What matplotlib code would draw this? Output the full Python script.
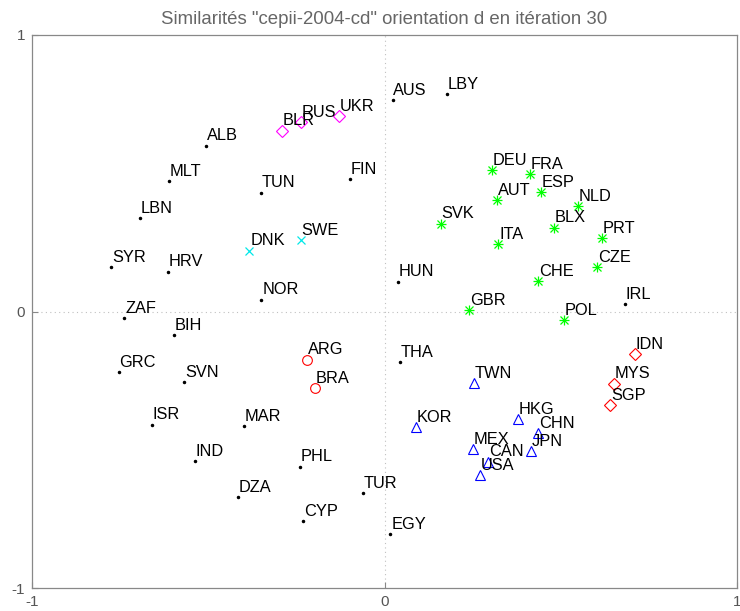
import matplotlib
matplotlib.use("Agg")
import matplotlib.pyplot as plt

plt.rcParams['font.family'] = ['Liberation Sans', 'DejaVu Sans']

title = 'Similarités "cepii-2004-cd" orientation d en itération 30'

# group: black dots
dot_codes = ["AUS", "LBY", "ALB", "MLT", "TUN", "FIN", "LBN", "SYR", "HRV", "NOR",
             "ZAF", "BIH", "GRC", "SVN", "HUN", "THA", "IRL", "ISR", "MAR", "IND",
             "PHL", "DZA", "TUR", "CYP", "EGY"]
dot_x = [0.023, 0.176, -0.506, -0.611, -0.350, -0.099, -0.695, -0.775, -0.614, -0.349,
         -0.738, -0.598, -0.754, -0.568, 0.039, 0.045, 0.681, -0.659, -0.400, -0.539,
         -0.240, -0.415, -0.062, -0.231, 0.017]
dot_y = [0.765, 0.787, 0.600, 0.471, 0.430, 0.479, 0.339, 0.160, 0.144, 0.043,
         -0.024, -0.086, -0.220, -0.256, 0.108, -0.183, 0.027, -0.409, -0.415, -0.541,
         -0.561, -0.670, -0.656, -0.758, -0.806]

# group: magenta diamonds
mag_codes = ["BLR", "RUS", "UKR"]
mag_x = [-0.291, -0.238, -0.129]
mag_y = [0.654, 0.684, 0.707]

# group: cyan crosses
cyan_codes = ["DNK", "SWE"]
cyan_x = [-0.383, -0.238]
cyan_y = [0.220, 0.259]

# group: green stars
green_codes = ["DEU", "FRA", "ESP", "AUT", "NLD", "SVK", "BLX", "ITA", "PRT", "CZE",
               "CHE", "GBR", "POL"]
green_x = [0.304, 0.412, 0.445, 0.319, 0.548, 0.160, 0.481, 0.323, 0.617, 0.604,
           0.436, 0.240, 0.508]
green_y = [0.512, 0.498, 0.431, 0.402, 0.380, 0.318, 0.303, 0.244, 0.265, 0.161,
           0.111, 0.005, -0.032]

# group: blue triangles
blue_codes = ["TWN", "KOR", "HKG", "CHN", "MEX", "JPN", "CAN", "USA"]
blue_x = [0.253, 0.090, 0.378, 0.436, 0.251, 0.417, 0.295, 0.271]
blue_y = [-0.260, -0.417, -0.390, -0.441, -0.498, -0.506, -0.543, -0.592]

# group: red diamonds
rd_codes = ["IDN", "MYS", "SGP"]
rd_x = [0.711, 0.651, 0.641]
rd_y = [-0.155, -0.261, -0.338]

# group: red circles
rc_codes = ["ARG", "BRA"]
rc_x = [-0.220, -0.196]
rc_y = [-0.174, -0.278]

fig = plt.figure(figsize=(7.4, 6.11), dpi=100)
ax = fig.add_axes([32 / 740, 1 - 588 / 611, (737 - 32) / 740, (588 - 35) / 611])

ax.axhline(0, color='#c0c0c0', lw=0.8, ls=(0, (1, 3)), zorder=0)
ax.axvline(0, color='#c0c0c0', lw=0.8, ls=(0, (1, 3)), zorder=0)

ax.plot(dot_x, dot_y, ls='none', marker='.', color='black', ms=3)
ax.plot(mag_x, mag_y, ls='none', marker='D', mfc='none', mec='#ff00ff', ms=6, mew=0.8)
ax.plot(cyan_x, cyan_y, ls='none', marker='x', color='#00e8e8', ms=6, mew=0.9)
ax.plot(green_x, green_y, ls='none', marker='+', color='#00ff00', ms=7.5, mew=0.9)
ax.plot(green_x, green_y, ls='none', marker='x', color='#00ff00', ms=5.5, mew=0.9)
ax.plot(blue_x, blue_y, ls='none', marker='^', mfc='none', mec='#0000ff', ms=6.5, mew=0.8)
ax.plot(rd_x, rd_y, ls='none', marker='D', mfc='none', mec='#ff0000', ms=6, mew=0.8)
ax.plot(rc_x, rc_y, ls='none', marker='o', mfc='none', mec='#ff0000', ms=7, mew=0.8)

for codes, xs, ys in [(dot_codes, dot_x, dot_y), (mag_codes, mag_x, mag_y),
                      (cyan_codes, cyan_x, cyan_y), (green_codes, green_x, green_y),
                      (blue_codes, blue_x, blue_y), (rd_codes, rd_x, rd_y),
                      (rc_codes, rc_x, rc_y)]:
    for c, x, y in zip(codes, xs, ys):
        ax.annotate(c, (x, y), xytext=(0.5, 7), textcoords='offset points',
                    ha='left', va='center', fontsize=11.8, color='black')

ax.set_xlim(-1, 1)
ax.set_ylim(-1, 1)
ax.set_xticks([-1, 0, 1])
ax.set_yticks([-1, 0, 1])
ax.set_xticklabels(['-1', '0', '1'])
ax.set_yticklabels(['-1', '0', '1'])
ax.tick_params(direction='in', length=4, color='#888888', labelcolor='#555555',
               labelsize=11, pad=5)
for s in ax.spines.values():
    s.set_color('#888888')
    s.set_linewidth(0.9)
ax.set_title(title, color='#666666', fontsize=13.4, pad=8)

fig.savefig('out.png', dpi=100)
